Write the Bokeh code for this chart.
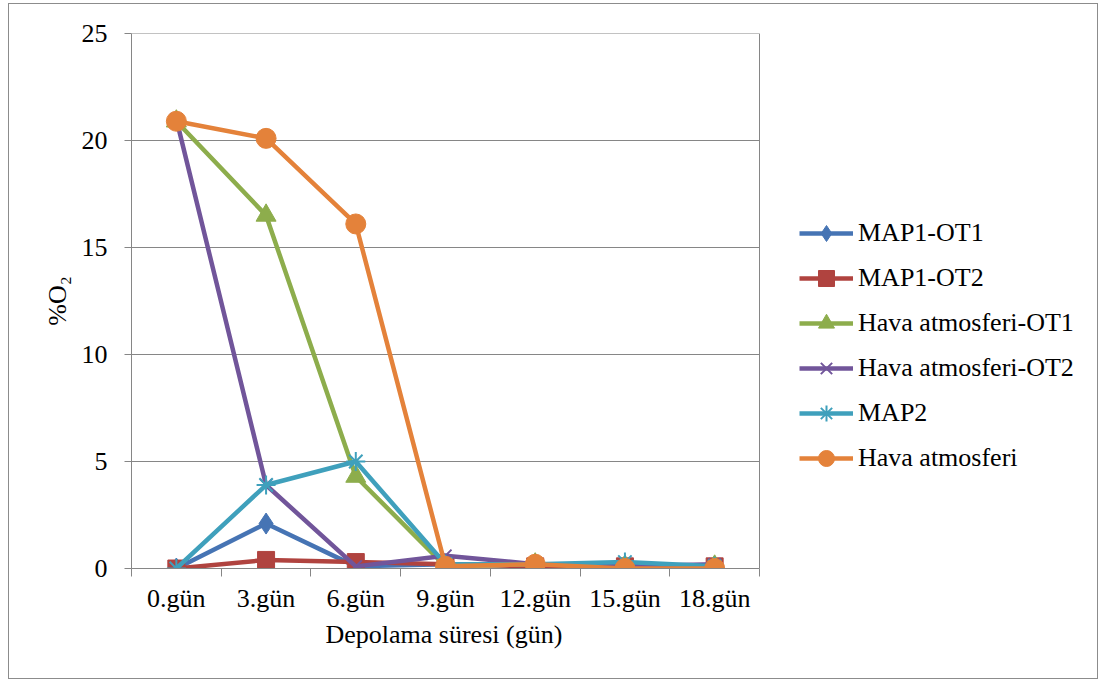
from bokeh.plotting import figure
from bokeh.models import Range1d, FixedTicker, Legend, LegendItem, Title
from bokeh.embed import file_html
from bokeh.resources import INLINE

days = ["0.gün", "3.gün", "6.gün", "9.gün", "12.gün", "15.gün", "18.gün"]
map1_ot1 = [0.0, 2.1, 0.1, 0.2, 0.2, 0.1, 0.1]
map1_ot2 = [0.0, 0.4, 0.3, 0.2, 0.1, 0.1, 0.1]
hava_ot1 = [20.9, 16.5, 4.3, 0.1, 0.2, 0.1, 0.1]
hava_ot2 = [21.0, 3.9, 0.1, 0.6, 0.2, 0.1, 0.2]
map2 = [0.0, 3.9, 5.0, 0.2, 0.2, 0.3, 0.1]
hava = [20.9, 20.1, 16.1, 0.1, 0.2, 0.0, 0.0]
y_ticks = [0, 5, 10, 15, 20, 25]

series = [
    ("MAP1-OT1", map1_ot1, "#4674B4", "diamond", 21),
    ("MAP1-OT2", map1_ot2, "#B0433F", "square", 17),
    ("Hava atmosferi-OT1", hava_ot1, "#8DAD4C", "triangle", 20),
    ("Hava atmosferi-OT2", hava_ot2, "#71559A", "x", 17),
    ("MAP2", map2, "#3FA0BC", "asterisk", 19),
    ("Hava atmosferi", hava, "#E4823A", "circle", 20),
]

FONT = "Liberation Serif"
FS = "26px"
GRID = "#868686"
n = len(days)
xs = [i + 0.5 for i in range(n)]

W, H = 1090, 676
LEFT, RIGHT, TOP, BOTTOM = 122, 5, 29, 112
AREA_PX = 628  # pixel width of the plotting area
x_end = n * (W - LEFT - RIGHT) / AREA_PX

p = figure(width=W, height=H, output_backend="svg", toolbar_location=None,
           x_range=Range1d(0, x_end), y_range=Range1d(y_ticks[0], y_ticks[-1]),
           min_border_left=LEFT, min_border_top=TOP, min_border_bottom=BOTTOM,
           min_border_right=RIGHT)
p.margin = (3, 0, 0, 8)
p.styles = {"border": "1px solid #8c8c8c"}
p.outline_line_color = None

p.xaxis.ticker = FixedTicker(ticks=xs, minor_ticks=list(range(n + 1)))
p.xaxis.major_label_overrides = {x: d for x, d in zip(xs, days)}
p.xaxis.bounds = (0, n)
p.xaxis.major_tick_out = 0
p.xaxis.major_tick_in = 0
p.xaxis.minor_tick_out = 8
p.xaxis.minor_tick_in = 0
p.xaxis.minor_tick_line_color = GRID
p.xaxis.major_label_standoff = 7

p.yaxis.ticker = FixedTicker(ticks=y_ticks)
p.yaxis.major_tick_out = 7
p.yaxis.major_tick_in = 0
p.yaxis.minor_tick_line_color = None
p.yaxis.major_label_standoff = 17
p.yaxis.axis_label = "%O₂"
p.yaxis.axis_label_standoff = 7

for ax in (p.xaxis[0], p.yaxis[0]):
    ax.axis_line_color = GRID
    ax.major_tick_line_color = GRID
    ax.major_label_text_font = FONT
    ax.major_label_text_font_size = FS
    ax.major_label_text_color = "black"
    ax.axis_label_text_font = FONT
    ax.axis_label_text_font_size = FS
    ax.axis_label_text_font_style = "normal"
    ax.axis_label_text_color = "black"

# x axis title, centred under the plotting area
p.add_layout(Title(text="Depolama süresi (gün)", align="left", offset=194,
                   text_font=FONT, text_font_size=FS, text_font_style="normal",
                   text_color="black", standoff=4), "below")

p.xgrid.grid_line_color = None
p.ygrid.grid_line_color = None

# horizontal gridlines and right border limited to the plotting area
p.segment(x0=[0] * len(y_ticks), x1=[n] * len(y_ticks), y0=y_ticks, y1=y_ticks,
          line_color=GRID, line_width=1, level="underlay")
p.segment(x0=[n], x1=[n], y0=[y_ticks[0]], y1=[y_ticks[-1]],
          line_color=GRID, line_width=1, level="underlay")

items = []
for name, ys, color, marker, size in series:
    ln = p.line(xs, ys, line_color=color, line_width=4.5)
    if marker in ("x", "asterisk"):
        sc = p.scatter(xs, ys, marker=marker, size=size, line_color=color,
                       line_width=2, fill_color=None)
    else:
        sc = p.scatter(xs, ys, marker=marker, size=size, fill_color=color,
                       line_color=color, line_width=1)
    items.append(LegendItem(label=name, renderers=[ln, sc]))

legend = Legend(items=items, location=(668, 90), orientation="vertical",
                label_text_font=FONT, label_text_font_size=FS,
                label_text_color="black", glyph_width=54, glyph_height=40,
                label_height=26, spacing=5, padding=0, margin=0,
                label_standoff=5, border_line_color=None,
                background_fill_alpha=0)
p.add_layout(legend)

open("out.html", "w").write(file_html(p, INLINE))
